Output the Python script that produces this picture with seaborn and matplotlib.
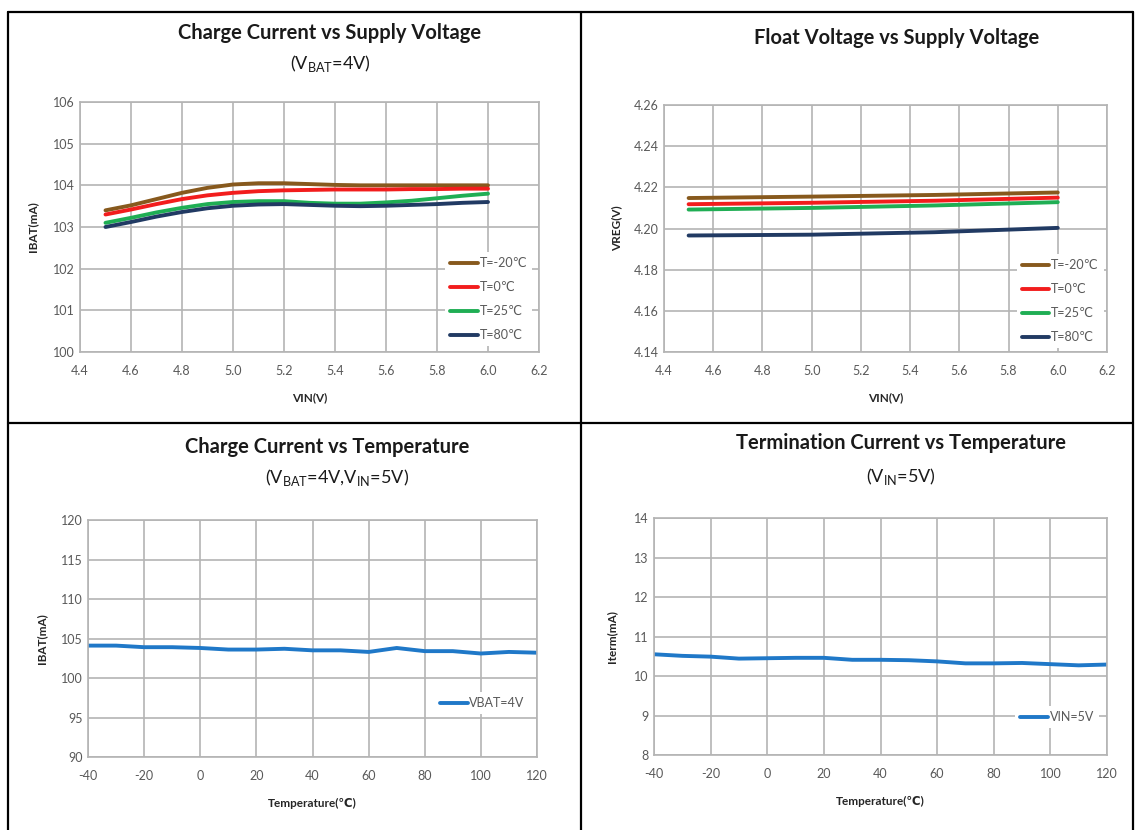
import matplotlib
matplotlib.use("Agg")
import matplotlib.pyplot as plt
from matplotlib.lines import Line2D
import seaborn as sns
import pandas as pd

# ---------------- data ----------------
vin = [4.5, 4.6, 4.7, 4.8, 4.9, 5.0, 5.1, 5.2, 5.3, 5.4, 5.5, 5.6, 5.7, 5.8, 5.9, 6.0]
ibat_m20 = [103.40, 103.52, 103.67, 103.82, 103.94, 104.02, 104.05, 104.05, 104.03, 104.01, 104.00, 104.00, 104.00, 104.00, 104.00, 104.00]
ibat_0 = [103.30, 103.42, 103.55, 103.67, 103.76, 103.82, 103.86, 103.88, 103.89, 103.90, 103.90, 103.90, 103.91, 103.91, 103.92, 103.92]
ibat_25 = [103.10, 103.22, 103.35, 103.46, 103.55, 103.60, 103.62, 103.62, 103.58, 103.56, 103.56, 103.59, 103.63, 103.69, 103.75, 103.80]
ibat_80 = [103.00, 103.12, 103.25, 103.36, 103.45, 103.51, 103.54, 103.55, 103.53, 103.51, 103.50, 103.51, 103.53, 103.55, 103.58, 103.60]

vin_f = [4.5, 5.0, 5.5, 6.0]
vreg_m20 = [4.2148, 4.2155, 4.2163, 4.2175]
vreg_0 = [4.2118, 4.2125, 4.2135, 4.2150]
vreg_25 = [4.2092, 4.2100, 4.2112, 4.2128]
vreg_80 = [4.1966, 4.1970, 4.1982, 4.2003]

temp = [-40, -30, -20, -10, 0, 10, 20, 30, 40, 50, 60, 70, 80, 90, 100, 110, 120]
ibat_temp = [104.1, 104.1, 103.9, 103.9, 103.8, 103.6, 103.6, 103.7, 103.5, 103.5, 103.3, 103.8, 103.4, 103.4, 103.1, 103.3, 103.2]
iterm_temp = [10.55, 10.51, 10.49, 10.44, 10.45, 10.46, 10.46, 10.41, 10.41, 10.40, 10.37, 10.32, 10.32, 10.33, 10.30, 10.27, 10.29]

t_labels = ["T=-20℃", "T=0℃", "T=25℃", "T=80℃"]
t_colors = ["#87591d", "#f21d1d", "#1fae54", "#213a63"]
blue = "#1f78c8"

# ---------------- style ----------------
sns.set_theme(style="white")
plt.rcParams["font.family"] = ["Lato", "DejaVu Sans"]
plt.rcParams["mathtext.fontset"] = "custom"
plt.rcParams["mathtext.rm"] = "Lato"
plt.rcParams["axes.unicode_minus"] = False

W, H = 1137, 830
fig = plt.figure(figsize=(W / 100, H / 100), dpi=100)
fig.patch.set_facecolor("white")


def add_ax(l, r, t, b):
    return fig.add_axes([l / W, 1 - b / H, (r - l) / W, (b - t) / H])


grid_c = "#b4b4b4"
tick_c = "#595959"


def style_ax(ax):
    ax.grid(True, color=grid_c, lw=1.2)
    ax.set_axisbelow(True)
    for s in ax.spines.values():
        s.set_visible(True)
        s.set_color(grid_c)
        s.set_linewidth(1.2)
    ax.tick_params(axis="both", length=0, labelsize=9, labelcolor=tick_c)
    ax.tick_params(axis="x", pad=9)
    ax.tick_params(axis="y", pad=4)


def legend(ax, loc, anchor):
    lg = ax.legend(loc=loc, bbox_to_anchor=anchor, fontsize=9, labelcolor=tick_c,
                   frameon=True, facecolor="white", edgecolor="none", framealpha=1,
                   handlelength=2.2, handletextpad=0.15, labelspacing=0.95,
                   borderaxespad=0, borderpad=0.4, fancybox=False)
    for h in lg.get_lines():
        h.set_linewidth(2.8)
    return lg


lbl_kw = dict(fontsize=8.5, fontweight="bold", color="#262626")

# ---- top-left ----
ax1 = add_ax(80, 539, 102, 352)
df1 = pd.DataFrame({
    "VIN": vin * 4,
    "IBAT": ibat_m20 + ibat_0 + ibat_25 + ibat_80,
    "T": sum([[lab] * len(vin) for lab in t_labels], []),
})
sns.lineplot(data=df1, x="VIN", y="IBAT", hue="T", palette=t_colors, hue_order=t_labels,
             lw=2.8, ax=ax1, legend=True)
ax1.set_xlim(4.4, 6.2)
ax1.set_ylim(100, 106)
ax1.set_xticks([4.4, 4.6, 4.8, 5.0, 5.2, 5.4, 5.6, 5.8, 6.0, 6.2])
ax1.set_xticklabels(["4.4", "4.6", "4.8", "5.0", "5.2", "5.4", "5.6", "5.8", "6.0", "6.2"])
ax1.set_yticks([100, 101, 102, 103, 104, 105, 106])
style_ax(ax1)
ax1.set_xlabel("VIN(V)", labelpad=11, **lbl_kw)
ax1.set_ylabel("IBAT(mA)", labelpad=10, **lbl_kw)
legend(ax1, "lower right", (0.985, 0.024))

# ---- top-right ----
ax2 = add_ax(664, 1107, 105, 352)
df2 = pd.DataFrame({
    "VIN": vin_f * 4,
    "VREG": vreg_m20 + vreg_0 + vreg_25 + vreg_80,
    "T": sum([[lab] * len(vin_f) for lab in t_labels], []),
})
sns.lineplot(data=df2, x="VIN", y="VREG", hue="T", palette=t_colors, hue_order=t_labels,
             lw=2.8, ax=ax2, legend=True)
ax2.set_xlim(4.4, 6.2)
ax2.set_ylim(4.14, 4.26)
ax2.set_xticks([4.4, 4.6, 4.8, 5.0, 5.2, 5.4, 5.6, 5.8, 6.0, 6.2])
ax2.set_xticklabels(["4.4", "4.6", "4.8", "5.0", "5.2", "5.4", "5.6", "5.8", "6.0", "6.2"])
ax2.set_yticks([4.14, 4.16, 4.18, 4.20, 4.22, 4.24, 4.26])
ax2.set_yticklabels(["4.14", "4.16", "4.18", "4.20", "4.22", "4.24", "4.26"])
style_ax(ax2)
ax2.set_xlabel("VIN(V)", labelpad=11, **lbl_kw)
ax2.set_ylabel("VREG(V)", labelpad=8, **lbl_kw)
legend(ax2, "lower right", (0.993, 0.016))

# ---- bottom-left ----
ax3 = add_ax(88, 537, 520, 757)
df3 = pd.DataFrame({"Temp": temp, "IBAT": ibat_temp, "S": ["VBAT=4V"] * len(temp)})
sns.lineplot(data=df3, x="Temp", y="IBAT", hue="S", palette=[blue], lw=2.8, ax=ax3, legend=True)
ax3.set_xlim(-40, 120)
ax3.set_ylim(90, 120)
ax3.set_xticks(list(range(-40, 121, 20)))
ax3.set_yticks(list(range(90, 121, 5)))
style_ax(ax3)
ax3.set_xlabel("Temperature(℃)", labelpad=12, **lbl_kw)
ax3.set_ylabel("IBAT(mA)", labelpad=10, **lbl_kw)
legend(ax3, "center right", (0.984, 0.228))

# ---- bottom-right ----
ax4 = add_ax(654, 1107, 518, 755)
df4 = pd.DataFrame({"Temp": temp, "Iterm": iterm_temp, "S": ["VIN=5V"] * len(temp)})
sns.lineplot(data=df4, x="Temp", y="Iterm", hue="S", palette=[blue], lw=2.8, ax=ax4, legend=True)
ax4.set_xlim(-40, 120)
ax4.set_ylim(8, 14)
ax4.set_xticks(list(range(-40, 121, 20)))
ax4.set_yticks(list(range(8, 15, 1)))
style_ax(ax4)
ax4.set_xlabel("Temperature(℃)", labelpad=12, **lbl_kw)
ax4.set_ylabel("Iterm(mA)", labelpad=12, **lbl_kw)
legend(ax4, "center right", (0.982, 0.16))

# ---------------- titles ----------------
def ftext(x, y, s, **kw):
    fig.text(x / W, 1 - y / H, s, ha="center", va="center", color="#1a1a1a", **kw)


ftext(330, 33, "Charge Current vs Supply Voltage", fontsize=14.5, fontweight="bold")
ftext(330, 63, r"(V$_{\mathrm{BAT}}$=4V)", fontsize=13)
ftext(897, 38, "Float Voltage vs Supply Voltage", fontsize=14.5, fontweight="bold")
ftext(327, 447, "Charge Current vs Temperature", fontsize=14.5, fontweight="bold")
ftext(337, 477, r"(V$_{\mathrm{BAT}}$=4V,V$_{\mathrm{IN}}$=5V)", fontsize=13)
ftext(901, 443, "Termination Current vs Temperature", fontsize=14.5, fontweight="bold")
ftext(901, 476, r"(V$_{\mathrm{IN}}$=5V)", fontsize=13)

# ---------------- panel borders ----------------
def fline(x0, y0, x1, y1):
    fig.add_artist(Line2D([x0 / W, x1 / W], [1 - y0 / H, 1 - y1 / H],
                          transform=fig.transFigure, color="black", lw=1.6))


fline(8, 12, 1133, 12)
fline(8, 12, 8, 830)
fline(1133, 12, 1133, 830)
fline(581, 12, 581, 830)
fline(8, 423, 1133, 423)

fig.savefig("out.png", dpi=100, facecolor="white")
